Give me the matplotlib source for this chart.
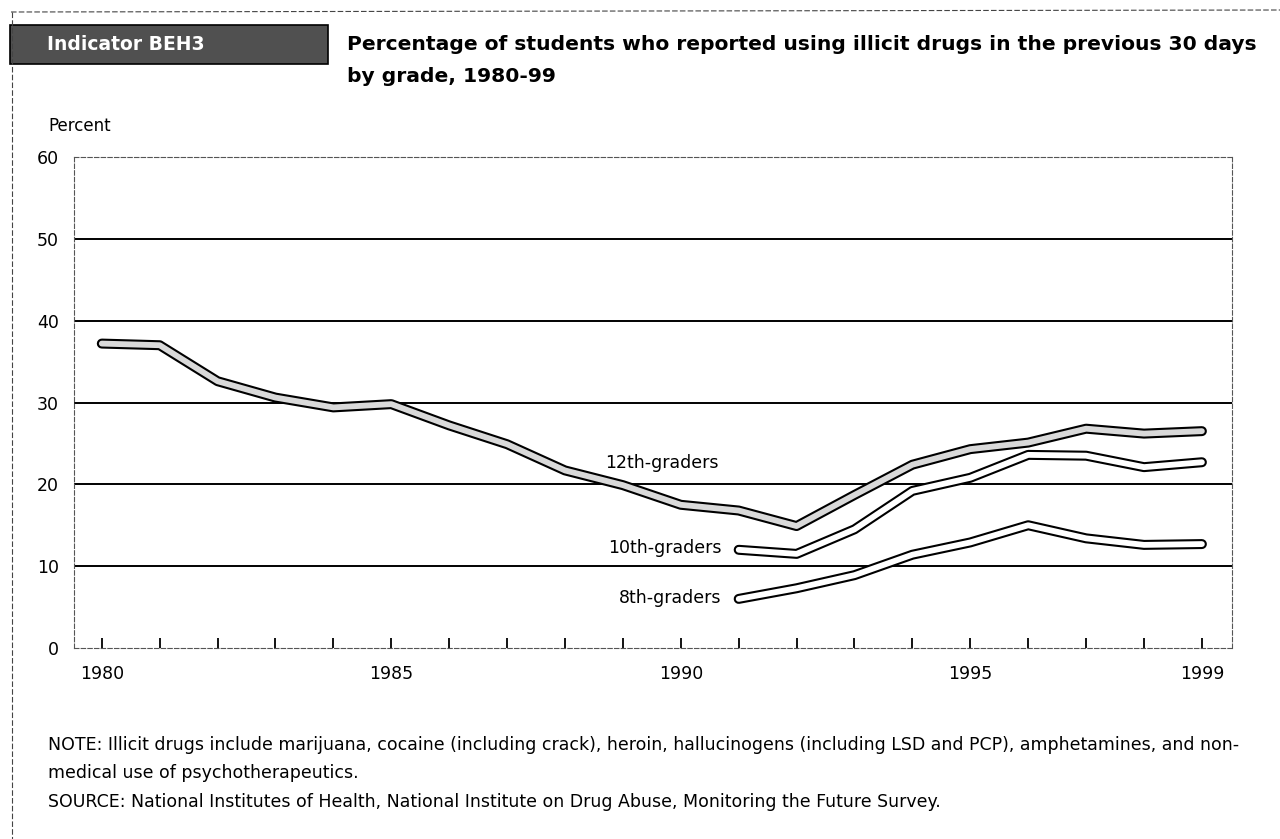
import numpy as np
import matplotlib
matplotlib.use("Agg")
import matplotlib.pyplot as plt
from matplotlib.patches import Rectangle
from matplotlib.lines import Line2D

plt.rcParams['font.family'] = ['DejaVu Sans']

# data
years_12 = list(range(1980, 2000))
grade12 = [37.2, 37.0, 32.6, 30.6, 29.4, 29.8, 27.2, 24.9, 21.7, 19.9,
           17.5, 16.8, 14.9, 18.7, 22.4, 24.3, 25.1, 26.8, 26.2, 26.5]
years_810 = list(range(1991, 2000))
grade10 = [12.0, 11.5, 14.5, 19.2, 20.8, 23.6, 23.5, 22.1, 22.7]
grade8 = [6.0, 7.3, 8.9, 11.4, 12.9, 15.0, 13.4, 12.6, 12.7]

tick_years = list(range(1980, 2000))
label_years = [1980, 1985, 1990, 1995, 1999]
yticks = [0, 10, 20, 30, 40, 50, 60]

fig = plt.figure(figsize=(12.8, 8.39), dpi=100)

# axes placed in pixels: left 74, right 1232, top 157, bottom 648
W, H = 1280, 839
ax = fig.add_axes([74 / W, 1 - 648 / H, (1232 - 74) / W, (648 - 157) / H])
ax.set_xlim(1979.52, 1999.52)
ax.set_ylim(0, 60)

# horizontal rules
for v in [10, 20, 30, 40, 50]:
    ax.axhline(v, color='black', lw=1.4, zorder=1)

# double-stroke lines
def band(x, y, fill):
    ax.plot(x, y, color='black', lw=7.2, solid_capstyle='round',
            solid_joinstyle='round', zorder=3)
    ax.plot(x, y, color=fill, lw=4.2, solid_capstyle='round',
            solid_joinstyle='round', zorder=4)

band(years_12, grade12, '#d9d9d9')
band(years_810, grade10, 'white')
band(years_810, grade8, 'white')

lab_fs = 12.5
ax.text(1989.67, 22.6, '12th-graders', fontsize=lab_fs, ha='center', va='center')
ax.text(1990.7, 12.2, '10th-graders', fontsize=lab_fs, ha='right', va='center')
ax.text(1990.7, 6.1, '8th-graders', fontsize=lab_fs, ha='right', va='center')

for s in ax.spines.values():
    s.set_linestyle((0, (4, 2)))
    s.set_linewidth(0.8)
    s.set_color('#555555')

ax.set_xticks(tick_years)
ax.set_xticklabels([str(y) if y in label_years else '' for y in tick_years])
ax.tick_params(axis='x', direction='in', length=7, width=1.3, pad=12,
               labelsize=12.5, color='black')
ax.set_yticks(yticks)
ax.set_yticklabels([str(v) for v in yticks])
ax.tick_params(axis='y', length=0, pad=11, labelsize=12.5)

# figure-level text and decorations (pixel coordinates)
def fx(px):
    return px / W

def fy(py):
    return 1 - py / H

fig.text(fx(48), fy(126), 'Percent', fontsize=12, ha='left', va='center')

# outer frame
fig.add_artist(Line2D([fx(11), fx(1280)], [fy(12), fy(10)], color='#444444',
                      lw=0.8, ls=(0, (5, 2))))
fig.add_artist(Line2D([fx(12), fx(12)], [fy(12), fy(839)], color='#444444',
                      lw=0.8, ls=(0, (5, 2))))

# indicator header box
fig.add_artist(Rectangle((fx(10), fy(64)), fx(318), (64 - 25) / H,
                         facecolor='#505050', edgecolor='black', lw=1.2))
fig.text(fx(47), fy(45), 'Indicator BEH3', fontsize=13.5, fontweight='bold',
         color='white', ha='left', va='center')

title_fs = 14.6
fig.text(fx(347), fy(44), 'Percentage of students who reported using illicit drugs in the previous 30 days',
         fontsize=title_fs, fontweight='bold', ha='left', va='center')
fig.text(fx(347), fy(77), 'by grade, 1980-99', fontsize=title_fs, fontweight='bold',
         ha='left', va='center')

note_fs = 12.5
fig.text(fx(48), fy(745), 'NOTE: Illicit drugs include marijuana, cocaine (including crack), heroin, hallucinogens (including LSD and PCP), amphetamines, and non-',
         fontsize=note_fs, ha='left', va='center')
fig.text(fx(48), fy(773), 'medical use of psychotherapeutics.', fontsize=note_fs,
         ha='left', va='center')
fig.text(fx(48), fy(802), 'SOURCE: National Institutes of Health, National Institute on Drug Abuse, Monitoring the Future Survey.',
         fontsize=note_fs, ha='left', va='center')

fig.savefig('out.png', dpi=100)
